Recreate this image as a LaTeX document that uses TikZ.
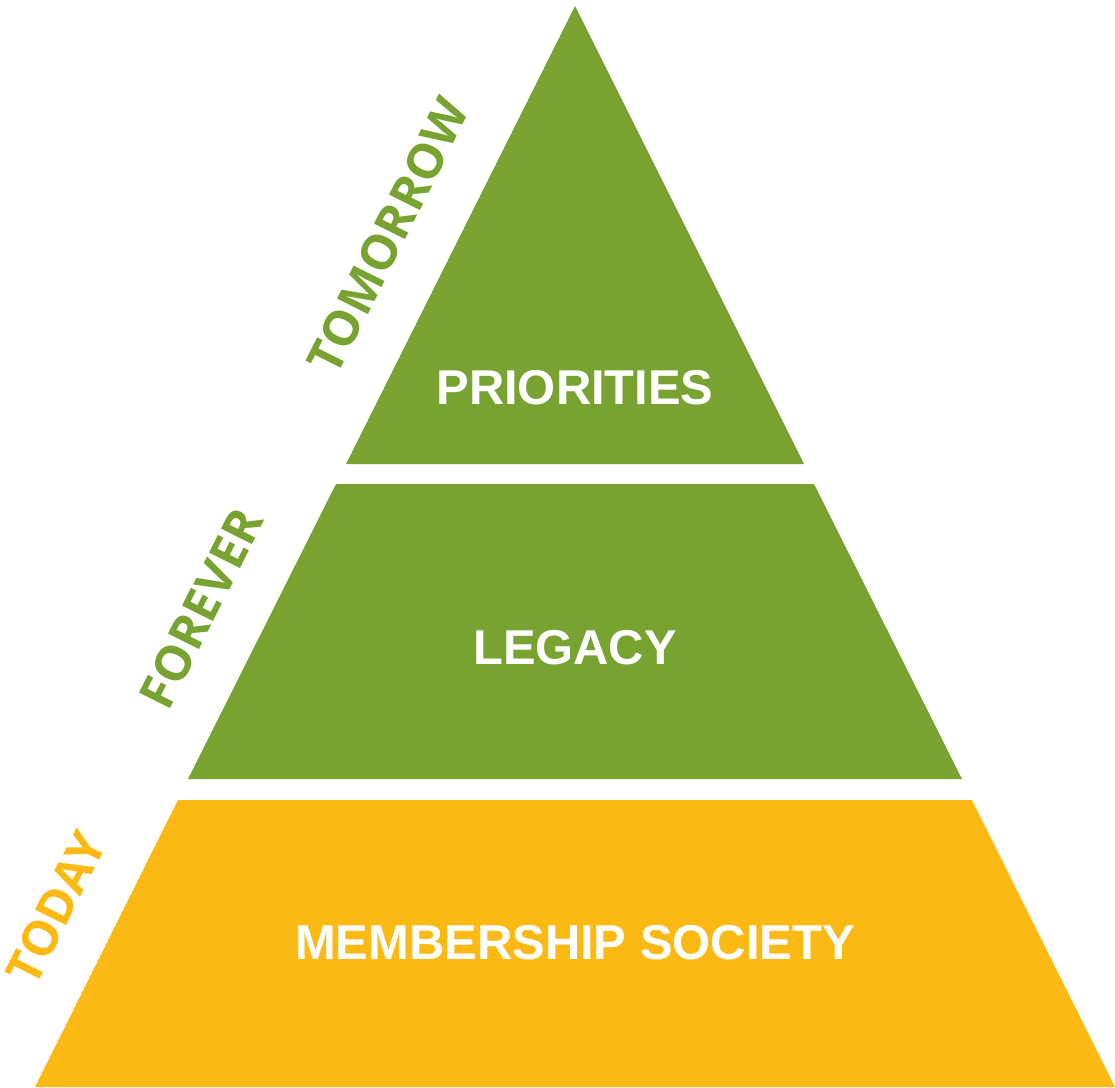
\documentclass[tikz,border=0pt]{standalone}
\usepackage{fontspec}
\setmainfont{Liberation Sans}
\newfontfamily\sidefont{Open Sans}
\usepackage{tikz}
\usetikzlibrary{positioning}
\definecolor{pyrgreen}{HTML}{78A331}
\definecolor{pyryellow}{HTML}{FBB914}
\tikzset{
  tier_g/.style = {fill=pyrgreen},% green tier
  tier_y/.style = {fill=pyryellow},% yellow tier
  tier_txt/.style = {white, inner sep=0pt,
    font=\fontsize{13.9}{16}\selectfont\bfseries},% text inside a tier
  side_txt/.style = {rotate=63.43, inner sep=0pt,
    font=\sidefont\fontsize{13.8}{16}\selectfont\bfseries},% text along the edge
  side_g/.style = {side_txt, pyrgreen},
  side_y/.style = {side_txt, pyryellow}
}

\begin{document}
\begin{tikzpicture}[x=0.01cm,y=-0.01cm]
\useasboundingbox (0,0) rectangle (1115,1087);

% tiers
\fill[tier_g] (575,6) -- (804,464) -- (346,464) -- cycle;
\fill[tier_g] (336,484) -- (814,484) -- (962,779) -- (188,779) -- cycle;
\fill[tier_y] (178,800) -- (972,800) -- (1115,1087) -- (35,1087) -- cycle;

\node [tier_txt] (prio) at (575,388) {PRIORITIES};
\node [tier_txt] (legacy) at (575,648) {LEGACY};
\node [tier_txt] (member) at (575,943) {MEMBERSHIP SOCIETY};

% labels along the left edge
\node [side_g] (tomorrow) at (388,236) {TOMORROW};
\node [side_g] (forever) at (201,608) {FOREVER};
\node [side_y] (today) at (56,908) {TODAY};
\end{tikzpicture}
\end{document}
